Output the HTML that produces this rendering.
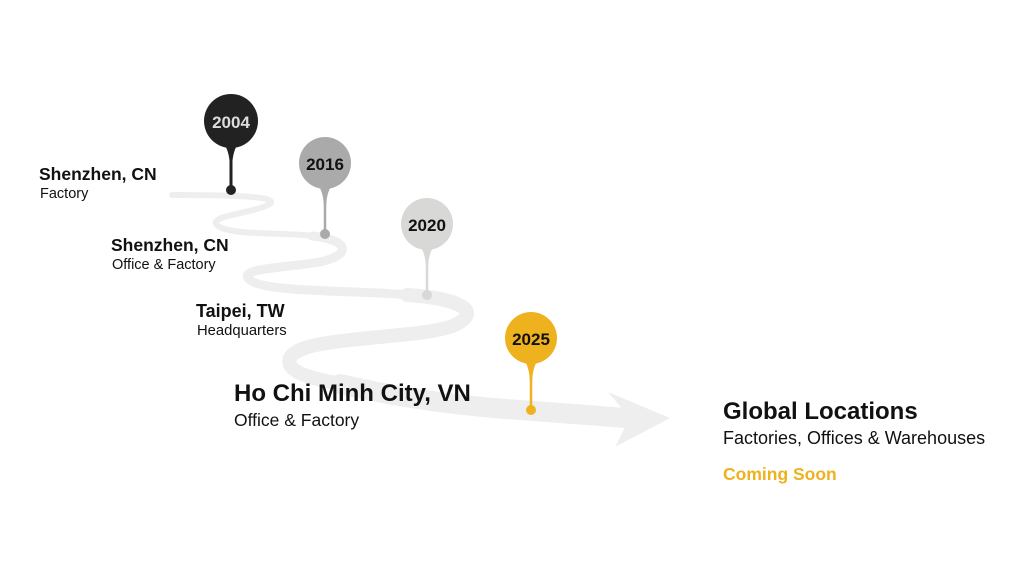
<!DOCTYPE html>
<html><head><style>
body{margin:0;width:1024px;height:576px;background:#fff;overflow:hidden;position:relative;font-family:"Liberation Sans",sans-serif;}
.t{position:absolute;color:#111;white-space:nowrap}
.b{font-weight:bold}
</style></head><body>
<svg width="1024" height="576" style="position:absolute;left:0;top:0">
<g fill="none" stroke="#eeeeee" stroke-linecap="round">
<path d="M172,195 C230,195 285,196 268,205 C250,214 205,216 218,226 C232,236 290,232 312,236" stroke-width="6"/>
<path d="M312,236 C350,240 352,255 320,262 C285,268 235,268 250,280 C265,293 360,290 407,295" stroke-width="9"/>
<path d="M407,295 C455,298 485,310 455,325 C420,340 300,335 290,358 C285,372 310,378 340,384" stroke-width="14"/>
<path d="M340,384 C400,398 460,406 520,410 C560,413 590,415 625,418" stroke-width="20"/>
</g>
<polygon points="608,392 670,418 615,447 630,418" fill="#eeeeee"/>
<g>
<circle cx="231" cy="121" r="27" fill="#222"/>
<path d="M224,144 L238,144 Q232,152 232,170 L230,170 Q230,152 224,144Z" fill="#222"/>
<line x1="231" y1="150" x2="231" y2="186" stroke="#222" stroke-width="3"/>
<circle cx="231" cy="190" r="5" fill="#222"/>
<circle cx="325" cy="163" r="26" fill="#aaaaaa"/>
<path d="M318,185 L332,185 Q326,193 326,210 L324,210 Q324,193 318,185Z" fill="#aaaaaa"/>
<line x1="325" y1="190" x2="325" y2="230" stroke="#aaa" stroke-width="2.5"/>
<circle cx="325" cy="234" r="5" fill="#aaa"/>
<circle cx="427" cy="224" r="26" fill="#d8d8d6"/>
<path d="M420,246 L434,246 Q428,254 428,270 L426,270 Q426,254 420,246Z" fill="#d8d8d6"/>
<line x1="427" y1="250" x2="427" y2="291" stroke="#d8d8d6" stroke-width="2.5"/>
<circle cx="427" cy="295" r="5" fill="#d8d8d6"/>
<circle cx="531" cy="338" r="26" fill="#efb21f"/>
<path d="M524,360 L538,360 Q532,368 532,385 L530,385 Q530,368 524,360Z" fill="#efb21f"/>
<line x1="531" y1="365" x2="531" y2="406" stroke="#efb21f" stroke-width="2.5"/>
<circle cx="531" cy="410" r="5" fill="#efb21f"/>
</g>
<g font-family="Liberation Sans,sans-serif" font-weight="bold" font-size="17" text-anchor="middle">
<text x="231" y="128" fill="#ddd">2004</text>
<text x="325" y="170" fill="#111">2016</text>
<text x="427" y="231" fill="#111">2020</text>
<text x="531" y="345" fill="#111">2025</text>
</g>
</svg>
<div class="t b" style="left:39px;top:164px;font-size:17.5px">Shenzhen, CN</div>
<div class="t" style="left:40px;top:186px;font-size:14.5px">Factory</div>
<div class="t b" style="left:111px;top:235px;font-size:17.5px">Shenzhen, CN</div>
<div class="t" style="left:112px;top:257px;font-size:14.5px">Office &amp; Factory</div>
<div class="t b" style="left:196px;top:301px;font-size:18px">Taipei, TW</div>
<div class="t" style="left:197px;top:323px;font-size:14.8px">Headquarters</div>
<div class="t b" style="left:234px;top:380px;font-size:24px">Ho Chi Minh City, VN</div>
<div class="t" style="left:234px;top:410px;font-size:17.5px">Office &amp; Factory</div>
<div class="t b" style="left:723px;top:398px;font-size:24px">Global Locations</div>
<div class="t" style="left:723px;top:428px;font-size:18px">Factories, Offices &amp; Warehouses</div>
<div class="t b" style="left:723px;top:464px;font-size:17.5px;color:#efb21f">Coming Soon</div>
</body></html>
